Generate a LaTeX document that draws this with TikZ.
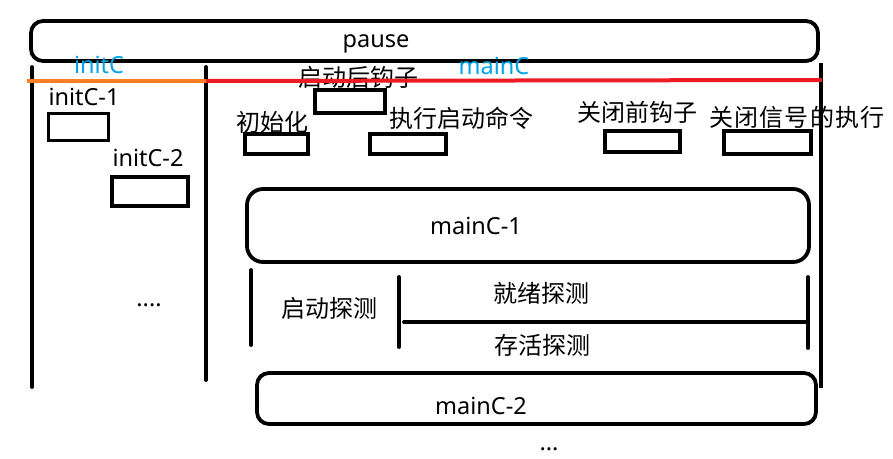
\documentclass[tikz,border=0pt]{standalone}
\usepackage{fontspec}
\setmainfont{Noto Sans}
\newfontfamily\cjk{Noto Sans CJK SC}
\definecolor{pblue}{RGB}{0,162,232}
\definecolor{porange}{RGB}{255,127,39}
\definecolor{pred}{RGB}{237,28,36}
\begin{document}
\begin{tikzpicture}[x=1pt,y=-1pt,line width=3.8pt,
  lat/.style={inner sep=0pt,font=\fontsize{23.5}{27}\selectfont,text height=16.8pt,text depth=0pt},
  blat/.style={lat,text=pblue},
  cj/.style={inner sep=0pt,font=\cjk\fontsize{24}{28}\selectfont,text height=21pt,text depth=2.8pt},
  cjw/.style={cj,font=\cjk\fontsize{24}{28}\selectfont\addfontfeature{LetterSpace=5}},
  box/.style={draw,line width=3.8pt,inner sep=0pt,outer sep=0pt},
  round/.style={box,rounded corners=#1},
  bar/.style={line width=3.8pt,line cap=round}]
\useasboundingbox (0,0) rectangle (893,458);

% big rounded shapes
\node[round=12,minimum width=787pt,minimum height=40pt] (pausebox) at (424.5,41) {};
\node[round=16,minimum width=562pt,minimum height=73pt] (m1box) at (528,225.5) {};
\node[round=12,minimum width=559pt,minimum height=51pt] (m2box) at (536.5,398.5) {};

% small boxes
\node[box,minimum width=60pt,minimum height=27pt] (i1box) at (78.5,127) {};
\node[box,minimum width=76pt,minimum height=29pt] (i2box) at (150,191.5) {};
\node[box,minimum width=70pt,minimum height=23pt] (hookbox) at (350,101.5) {};
\node[box,minimum width=63pt,minimum height=20pt] (initbox) at (276.5,144) {};
\node[box,minimum width=76pt,minimum height=20pt] (execbox) at (408,144) {};
\node[box,minimum width=75pt,minimum height=21pt] (prebox) at (642.5,141.5) {};
\node[box,minimum width=87pt,minimum height=23pt] (sigbox) at (767.5,142.5) {};

% texts
\node[lat] (pause) at (376,39) {pause};
\node[blat] (initC) at (99,65) {initC};
\node[blat] (mainC) at (494,66) {mainC};
\node[lat] (i1) at (84,97) {initC-1};
\node[lat] (i2) at (148,158) {initC-2};
\node[lat,anchor=base] (dots1) at (149,306) {....};
\node[cj] (hook) at (358,77) {启动后钩子};
\node[cj] (init) at (272,122) {初始化};
\node[cj] (exec) at (461,118) {执行启动命令};
\node[cj] (pre) at (637,112) {关闭前钩子};
\node[cjw] (sig) at (797,117) {关闭信号的执行};
\node[lat] (m1) at (476,226) {mainC-1};
\node[cj] (sp) at (329,308) {启动探测};
\node[cj] (rp) at (541,293) {就绪探测};
\node[cj] (lp) at (542,345) {存活探测};
\node[lat] (m2) at (481,406) {mainC-2};
\node[lat,anchor=base] (dots2) at (549,450) {...};

% column lines
\coordinate (L1) at (32,67);   \coordinate (L2) at (32,387);
\coordinate (M1) at (206,67);  \coordinate (M2) at (206,380);
\coordinate (R1) at (821,63);  \coordinate (R2) at (821,388);
\draw[bar] (L1) -- (L2);
\draw[bar] (M1) -- (M2);
\draw[line width=3.8pt] (R1) -- (R2);

% probe bracket
\coordinate (B1) at (251,270); \coordinate (B2) at (251,345);
\coordinate (C1) at (399,277); \coordinate (C2) at (399,347);
\coordinate (D1) at (808,277); \coordinate (D2) at (808,348);
\coordinate (H1) at (404,322); \coordinate (H2) at (808,322);
\draw[bar] (B1) -- (B2);
\draw[bar] (C1) -- (C2);
\draw[bar] (D1) -- (D2);
\draw[bar] (H1) -- (H2);

% coloured separators
\coordinate (O1) at (27,81); \coordinate (O2) at (206,81);
\coordinate (Q2) at (822,80);
\draw[porange,line width=4pt] (O1) -- (O2);
\draw[pred,line width=4pt] (O2) -- (Q2);
\end{tikzpicture}
\end{document}
